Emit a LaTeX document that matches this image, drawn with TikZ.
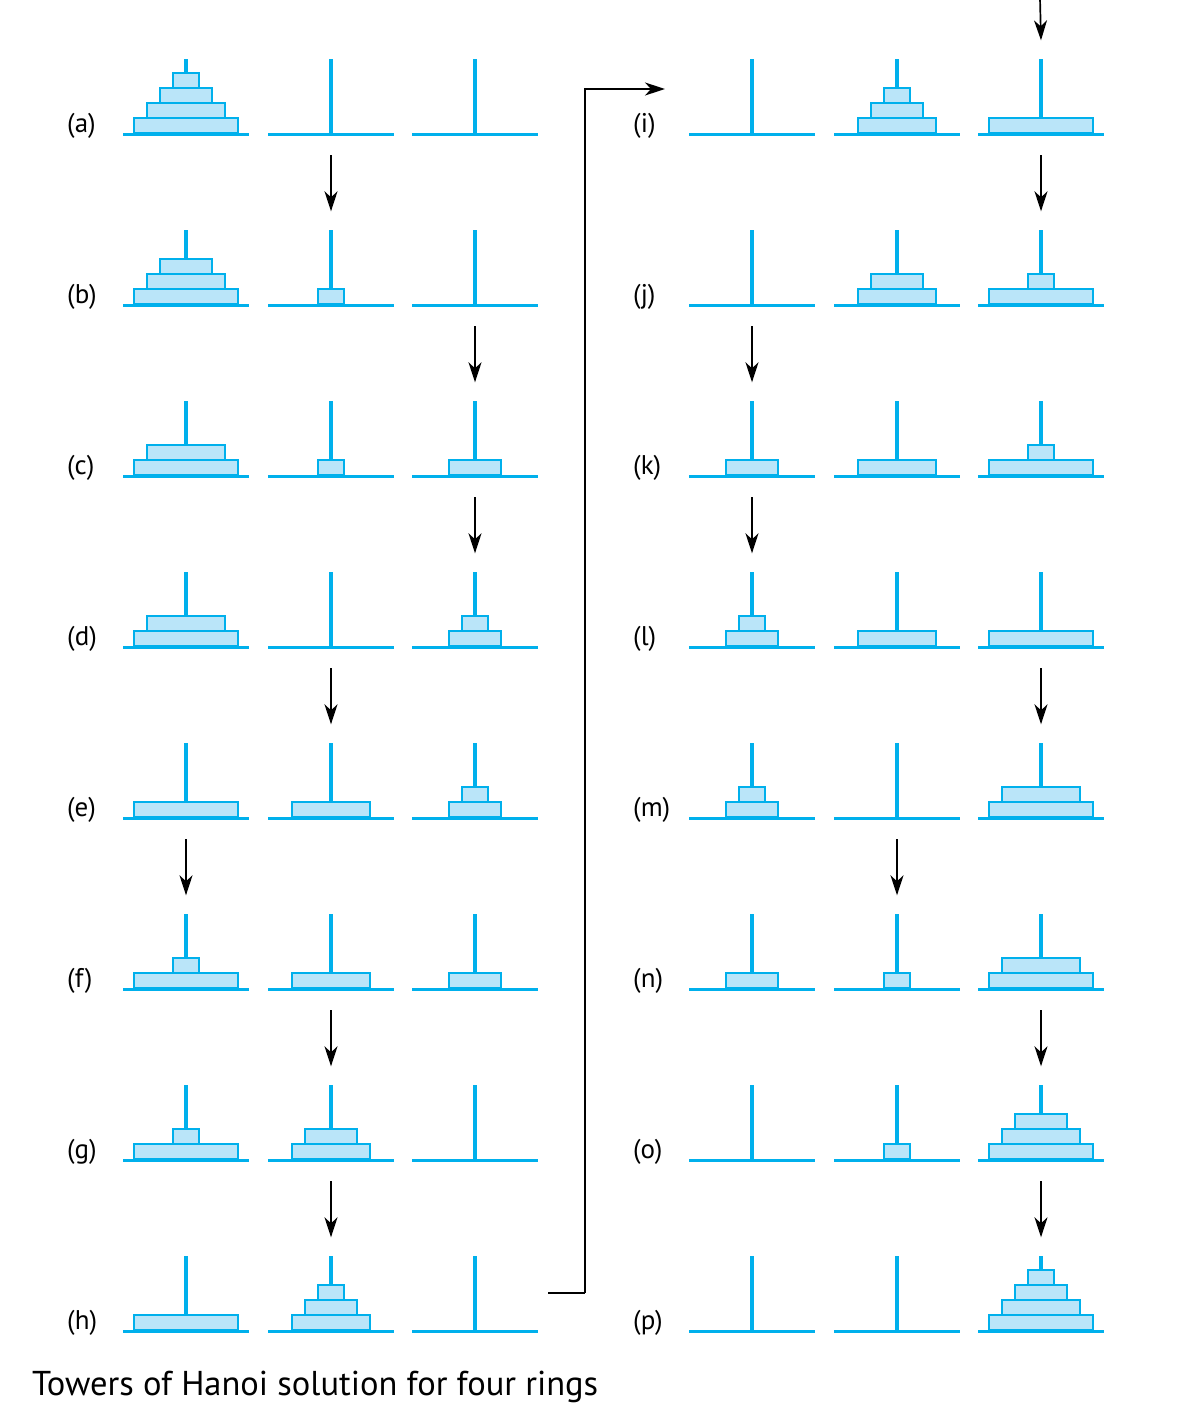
\documentclass[tikz,border=0pt]{standalone}
\usepackage{fontspec}
\setmainfont{PT Sans}
\usetikzlibrary{arrows.meta}
\definecolor{pegc}{RGB}{0,176,236}
\definecolor{ringc}{RGB}{186,229,249}
\tikzset{
  baseline/.style={draw=pegc,line width=3.3pt},
  pole/.style={draw=pegc,line width=3.4pt},
  ring/.style={draw=pegc,fill=ringc,line width=2pt},
  lab/.style={anchor=west,inner sep=0pt,font=\fontsize{27}{30}\selectfont},
  arr/.style={draw=black,line width=1.7pt,-{Stealth[length=20pt,width=13pt,inset=6pt]}},
  conn/.style={draw=black,line width=1.7pt}
}
% #1 name, #2 peg x, #3 base y, #4 rings bottom..top (0 = none)
\newcommand\hpeg[4]{%
  \coordinate (#1) at (#2,#3);
  \coordinate (#1t) at (#2,#3-75);
  \draw[baseline] ([xshift=-63pt]#1) -- ([xshift=63pt]#1);
  \draw[pole] (#1) -- (#1t);
  \foreach \w [count=\i] in {#4}{%
    \ifnum\w>0
      \draw[ring] (#2-13*\w,#3-1.6-15*\i+15) rectangle (#2+13*\w,#3-1.6-15*\i);
    \fi
  }%
}
% #1 letter, #2 column x offset (0 or 566), #3 row index, #4 #5 #6 pegs
\newcommand\hrow[6]{%
  \pgfmathsetmacro\by{134.3+171*#3}%
  \node[lab] (lab#1) at (67+#2,\by-8) {(#1)};
  \hpeg{#11}{186+#2}{\by}{#4}
  \hpeg{#12}{331+#2}{\by}{#5}
  \hpeg{#13}{475+#2}{\by}{#6}
}
\newcommand\hmove[2]{\draw[arr] ([yshift=-21pt]#1) -- ([yshift=19pt]#2);}
\begin{document}
\begin{tikzpicture}[x=1pt,y=-1pt]
\useasboundingbox (0,0) rectangle (1183,1419);
\hrow{a}{0}{0}{4,3,2,1}{0}{0}
\hrow{b}{0}{1}{4,3,2}{1}{0}
\hrow{c}{0}{2}{4,3}{1}{2}
\hrow{d}{0}{3}{4,3}{0}{2,1}
\hrow{e}{0}{4}{4}{3}{2,1}
\hrow{f}{0}{5}{4,1}{3}{2}
\hrow{g}{0}{6}{4,1}{3,2}{0}
\hrow{h}{0}{7}{4}{3,2,1}{0}
\hrow{i}{566}{0}{0}{3,2,1}{4}
\hrow{j}{566}{1}{0}{3,2}{4,1}
\hrow{k}{566}{2}{2}{3}{4,1}
\hrow{l}{566}{3}{2,1}{3}{4}
\hrow{m}{566}{4}{2,1}{0}{4,3}
\hrow{n}{566}{5}{2}{1}{4,3}
\hrow{o}{566}{6}{0}{1}{4,3,2}
\hrow{p}{566}{7}{0}{0}{4,3,2,1}
\hmove{a2}{b2t}
\hmove{b3}{c3t}
\hmove{c3}{d3t}
\hmove{d2}{e2t}
\hmove{e1}{f1t}
\hmove{f2}{g2t}
\hmove{g2}{h2t}
\hmove{i3}{j3t}
\hmove{j1}{k1t}
\hmove{k1}{l1t}
\hmove{l3}{m3t}
\hmove{m2}{n2t}
\hmove{n3}{o3t}
\hmove{o3}{p3t}
\coordinate (hout) at (548,1293);
\coordinate (bend) at (585,1293);
\coordinate (iin) at (665,89);
\coordinate (itopin) at (1040,-2);
\draw[conn] (hout) -- (bend);
\draw[arr] (bend) |- (iin);
\draw[arr] (itopin) -- ([yshift=19pt]i3t);
\node[anchor=base west,inner sep=0pt,font=\fontsize{34.5}{38}\selectfont] (title) at (32,1395) {Towers of Hanoi solution for four rings};
\end{tikzpicture}
\end{document}
